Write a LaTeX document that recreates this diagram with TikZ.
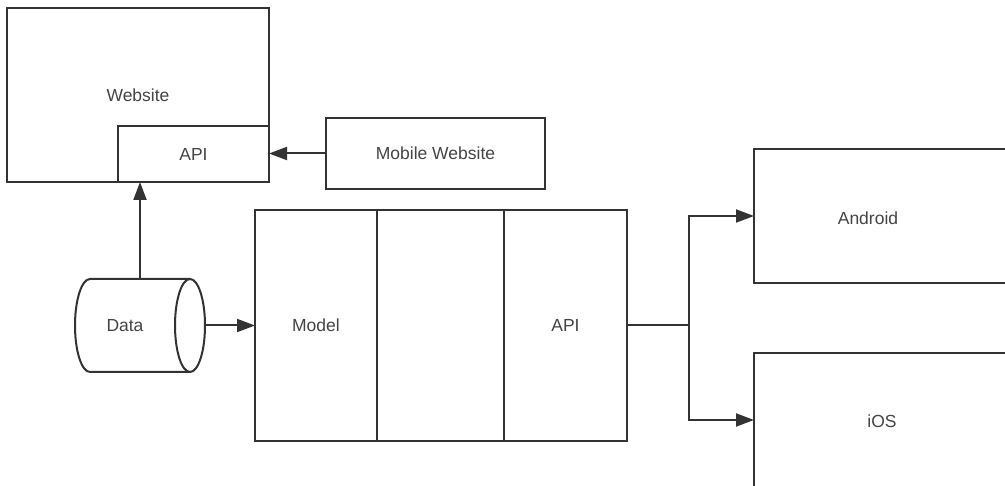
\documentclass[tikz,border=0pt]{standalone}
\usepackage{fontspec}
\setmainfont{Liberation Sans}
\usetikzlibrary{shapes.geometric,arrows.meta,positioning}

\definecolor{linegray}{HTML}{333333}
\definecolor{textgray}{HTML}{444444}

\begin{document}
\begin{tikzpicture}[x=1pt,y=-1pt,line width=2pt,draw=linegray,
                    >={Triangle[length=18pt,width=13pt]},
                    box/.style={draw=linegray,rectangle,inner sep=0pt,outer sep=0pt,text=textgray},
                    lbl/.style={text=textgray},
                    every node/.style={font=\fontsize{17.5}{20}\selectfont}]
  \clip (0,0) rectangle (1005,486);
  % left part
  \node[box,minimum width=262,minimum height=174] (website) at (138,95) {Website};
  \node[box,fill=white,minimum width=151,minimum height=56] (webapi) at (193.5,154) {API};
  \node[box,minimum width=219,minimum height=71] (mobile) at (435.5,153.5) {Mobile Website};
  % data store
  \node[box,draw=none,minimum width=130,minimum height=93] (data) at (140,325.5) {};
  \draw (190,279) -- (90,279) arc[start angle=-90,end angle=-270,x radius=15,y radius=46.5]
        -- (190,372);
  \draw (190,325.5) ellipse [x radius=15,y radius=46.5];
  \node[lbl] (datatxt) at (125,326) {Data};
  % backend
  \node[box,minimum width=122,minimum height=231] (model) at (316,325.5) {Model};
  \node[box,minimum width=127,minimum height=231,right=0pt of model] (logic) {};
  \node[box,minimum width=123,minimum height=231,right=0pt of logic] (api) {API};
  % clients
  \node[box,minimum width=300,minimum height=134,anchor=west] (android) at (754,216) {};
  \node[lbl] (androidtxt) at (868,218) {Android};
  \node[box,minimum width=300,minimum height=134,anchor=west] (ios) at (754,420) {};
  \node[lbl] (iostxt) at (882,421) {iOS};
  \coordinate (fork) at (689,0);

  \draw[->] (mobile.west) -- (mobile.west -| webapi.east);
  \draw[->] (data.north) -- (data.north |- webapi.south);
  \draw[->] (data.east) -- (data.east -| model.west);
  \draw (api.east) -- (api.east -| fork);
  \draw[->] (api.east -| fork) |- (android.west);
  \draw[->] (api.east -| fork) |- (ios.west);
\end{tikzpicture}
\end{document}
